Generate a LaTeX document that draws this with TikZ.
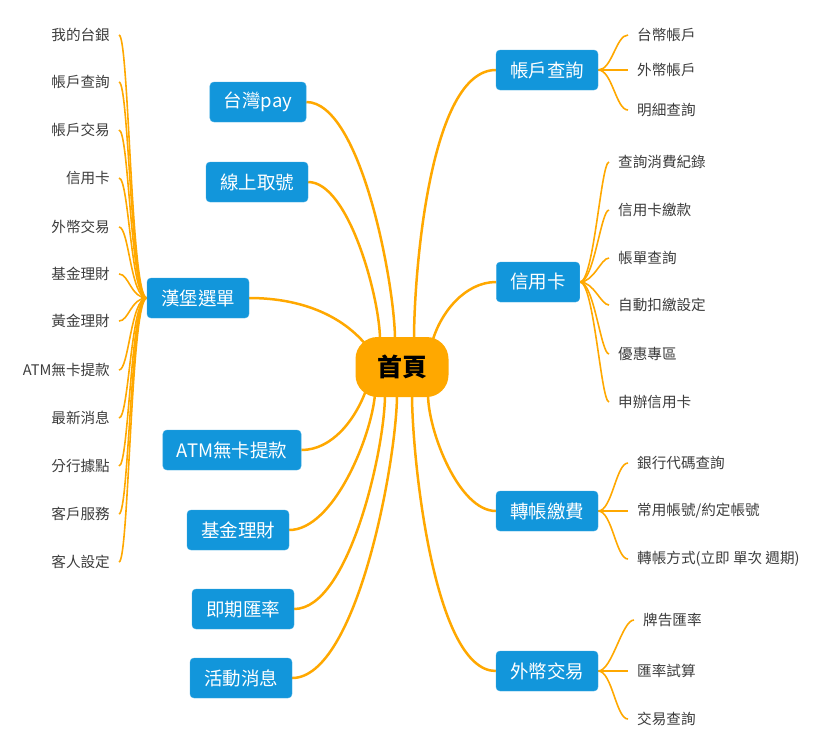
\documentclass[tikz,border=0pt]{standalone}
\usepackage{fontspec}
\setmainfont{Noto Sans CJK TC}
\usepackage{tikz}
\usetikzlibrary{positioning, backgrounds}
\definecolor{branch}{RGB}{255,168,0}
\definecolor{boxblue}{RGB}{18,150,219}
\definecolor{leaftext}{RGB}{60,60,60}

\begin{document}
\begin{tikzpicture}[
			x=1pt, y=-1pt,
			root/.style={fill=branch, rounded corners=22pt, minimum width=93pt, minimum height=60pt,
				font=\fontsize{25}{28}\selectfont\bfseries, text=black},
			topic/.style={fill=boxblue, draw=boxblue!80!white, rounded corners=4pt, minimum height=40pt,
				inner xsep=14pt, font=\fontsize{18.5}{21}\selectfont, text=white},
			leafL/.style={anchor=east, inner xsep=9pt, inner ysep=2pt, font=\fontsize{14.6}{16}\selectfont, text=leaftext},
			leafR/.style={leafL, anchor=west},
			limb/.style={draw=branch, line width=2.5pt},
			twig/.style={draw=branch, line width=1.6pt}
			]
			\useasboundingbox (0,0) rectangle (834,732);
			
			% Root and topics
			\node[root]  (home)   at (402,367) {首頁};
			\node[topic] (pay)    at (258,102) {台灣pay};
			\node[topic] (ticket) at (257,182) {線上取號};
			\node[topic] (menu)   at (198,298) {漢堡選單};
			\node[topic] (atm)    at (232,450) {ATM無卡提款};
			\node[topic] (fund)   at (238,530) {基金理財};
			\node[topic] (rate)   at (243,609) {即期匯率};
			\node[topic] (event)  at (241,678) {活動消息};
			\node[topic] (acct)   at (547,70)  {帳戶查詢};
			\node[topic] (card)   at (538,282) {信用卡};
			\node[topic] (xfer)   at (547,511) {轉帳繳費};
			\node[topic] (fx)     at (547,671) {外幣交易};
			
			% Leaves of the menu
			\node[leafL] (m1)  at (119,35)  {我的台銀};
			\node[leafL] (m2)  at (119,82)  {帳戶查詢};
			\node[leafL] (m3)  at (119,130) {帳戶交易};
			\node[leafL] (m4)  at (119,178) {信用卡};
			\node[leafL] (m5)  at (119,227) {外幣交易};
			\node[leafL] (m6)  at (119,274) {基金理財};
			\node[leafL] (m7)  at (119,321) {黃金理財};
			\node[leafL] (m8)  at (119,370) {ATM無卡提款};
			\node[leafL] (m9)  at (119,418) {最新消息};
			\node[leafL] (m10) at (119,466) {分行據點};
			\node[leafL] (m11) at (119,514) {客戶服務};
			\node[leafL] (m12) at (119,562) {客人設定};
			
			% Leaves on the right
			\node[leafR] (a1) at (628,35)  {台幣帳戶};
			\node[leafR] (a2) at (628,70)  {外幣帳戶};
			\node[leafR] (a3) at (628,110) {明細查詢};
			\node[leafR] (c1) at (609,162) {查詢消費紀錄};
			\node[leafR] (c2) at (609,210) {信用卡繳款};
			\node[leafR] (c3) at (609,258) {帳單查詢};
			\node[leafR] (c4) at (609,305) {自動扣繳設定};
			\node[leafR] (c5) at (609,354) {優惠專區};
			\node[leafR] (c6) at (609,402) {申辦信用卡};
			\node[leafR] (t1) at (628,463) {銀行代碼查詢};
			\node[leafR] (t2) at (628,511) {常用帳號/約定帳號};
			\node[leafR] (t3) at (628,559) {轉帳方式(立即 單次 週期)};
			\node[leafR] (f1) at (634,620) {牌告匯率};
			\node[leafR] (f2) at (628,671) {匯率試算};
			\node[leafR] (f3) at (628,719) {交易查詢};
			
			\begin{scope}[on background layer]
				% Limbs from the root
				\draw[limb] ([xshift=-7pt,yshift=-3pt]home.north) to[out=90, in=0, looseness=0.55] (pay.east);
				\draw[limb] ([xshift=-22pt,yshift=-3pt]home.north) to[out=90, in=0, looseness=0.6] (ticket.east);
				\draw[limb] ([xshift=-36pt,yshift=-8pt]home.north) to[out=130, in=0, looseness=0.9] (menu.east);
				\draw[limb] ([xshift=12pt,yshift=-3pt]home.north) to[out=90, in=180, looseness=0.6] (acct.west);
				\draw[limb] ([xshift=30pt,yshift=-6pt]home.north) to[out=75, in=180, looseness=0.9] (card.west);
				\draw[limb] ([xshift=-36pt,yshift=7pt]home.south) to[out=-110, in=0, looseness=0.9] (atm.east);
				\draw[limb] ([xshift=-27pt,yshift=3pt]home.south) to[out=-95, in=0, looseness=0.7] (fund.east);
				\draw[limb] ([xshift=-17pt,yshift=3pt]home.south) to[out=-90, in=0, looseness=0.6] (rate.east);
				\draw[limb] ([xshift=-5pt,yshift=3pt]home.south) to[out=-90, in=0, looseness=0.55] (event.east);
				\draw[limb] ([xshift=10pt,yshift=3pt]home.south) to[out=-90, in=180, looseness=0.55] (fx.west);
				\draw[limb] ([xshift=26pt,yshift=3pt]home.south) to[out=-90, in=180, looseness=0.7] (xfer.west);
				
				% Twigs to the leaves
				\foreach \n in {m1,m2,m3,m4,m5,m6,m7,m8,m9,m10,m11,m12}
					\draw[twig] (menu.west) .. controls +(-16,0) and +(10,0) .. (\n.east);
				\foreach \n in {a1,a2,a3}
					\draw[twig] (acct.east) .. controls +(14,0) and +(-12,0) .. (\n.west);
				\foreach \n in {c1,c2,c3,c4,c5,c6}
					\draw[twig] (card.east) .. controls +(14,0) and +(-8,0) .. (\n.west);
				\foreach \n in {t1,t2,t3}
					\draw[twig] (xfer.east) .. controls +(14,0) and +(-12,0) .. (\n.west);
				\foreach \n in {f1,f2,f3}
					\draw[twig] (fx.east) .. controls +(14,0) and +(-12,0) .. (\n.west);
			\end{scope}
			
		\end{tikzpicture}
\end{document}
